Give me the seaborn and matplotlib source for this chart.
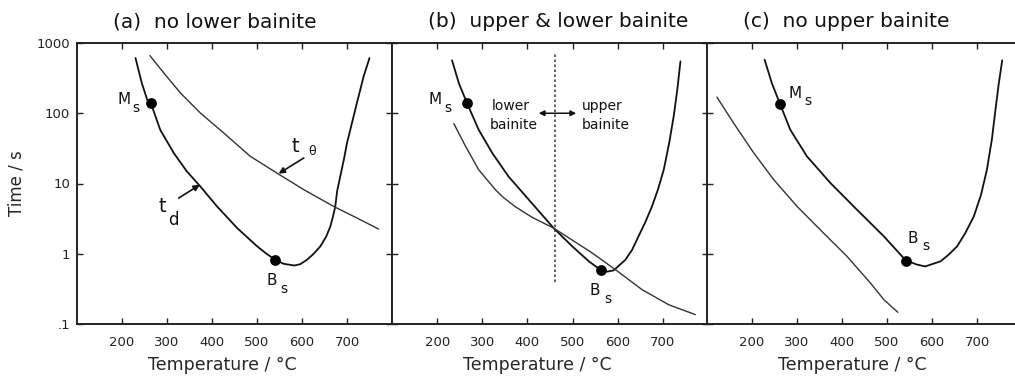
import numpy as np
import pandas as pd
import matplotlib
matplotlib.use("Agg")
import matplotlib.pyplot as plt
import seaborn as sns

# ---------------- data (temperature in degC, time in s) ----------------
# panel (a): no lower bainite
a_td_T = [230, 244, 256, 264, 285, 315, 344, 374, 411, 456, 500, 522, 541, 559, 583, 596, 611, 626,
          641, 654, 663, 669, 674, 678, 685, 693, 700, 722, 737, 750]
a_td_t = [611, 269, 156, 140, 58, 27.2, 14.9, 9.1, 4.73, 2.32, 1.28, 0.99, 0.82, 0.72, 0.68, 0.71, 0.82, 1.0,
          1.28, 1.77, 2.45, 3.41, 4.73, 7.73, 12.6, 21.9, 37.7, 140, 335, 611]
a_th_T = [262, 293, 330, 374, 426, 485, 544, 604, 670, 722, 770]
a_th_t = [661, 374, 194, 101, 52.4, 24.4, 14.1, 8.17, 4.73, 3.23, 2.25]
a_pts_T = [264, 541]
a_pts_t = [140, 0.82]

# panel (b): upper & lower bainite
b_td_T = [233, 248, 266, 292, 322, 358, 403, 458, 499, 536, 562, 576, 591, 617, 632, 646, 661, 676,
          689, 702, 714, 724, 732, 739]
b_td_t = [566, 269, 140, 58.3, 27.2, 12.6, 5.89, 2.32, 1.28, 0.78, 0.59, 0.556, 0.58, 0.82, 1.14, 1.77, 2.8, 4.73,
          8.17, 15.7, 37.7, 90.4, 217, 548]
b_th_T = [237, 263, 292, 329, 347, 373, 410, 458, 543, 595, 654, 713, 772]
b_th_t = [71.1, 33.8, 15.7, 8.17, 6.31, 4.68, 3.31, 2.32, 1.03, 0.593, 0.308, 0.188, 0.136]
b_pts_T = [266, 562]
b_pts_t = [140, 0.58]
b_divide_T = 460
b_divide_t = [0.40, 720]

# panel (c): no upper bainite
c_td_T = [228, 244, 262, 285, 322, 374, 433, 493, 542, 567, 585, 619, 637, 656, 674, 693, 709, 722,
          733, 741, 748, 756]
c_td_t = [579, 269, 137, 58.3, 24.4, 10.2, 4.25, 1.77, 0.80, 0.70, 0.66, 0.78, 0.97, 1.28, 1.97, 3.41, 6.93, 15.7,
          42.1, 112, 255, 566]
c_th_T = [122, 159, 204, 248, 300, 359, 411, 463, 493, 524]
c_th_t = [170, 72.6, 27.2, 11.4, 4.73, 1.97, 0.92, 0.384, 0.222, 0.147]
c_pts_T = [262, 542]
c_pts_t = [137, 0.80]

titles = ["(a)  no lower bainite", "(b)  upper & lower bainite", "(c)  no upper bainite"]
x_ticks = [200, 300, 400, 500, 600, 700]
y_ticks = [0.1, 1, 10, 100, 1000]
y_tick_labels = [".1", "1", "10", "100", "1000"]

# ---------------- style ----------------
sns.set_theme(style="ticks")
plt.rcParams["font.family"] = ["DejaVu Sans"]
plt.rcParams["axes.edgecolor"] = "#222222"
plt.rcParams["axes.linewidth"] = 1.4
plt.rcParams["lines.solid_joinstyle"] = "round"

W, H = 1015, 379
fig = plt.figure(figsize=(W / 100, H / 100), dpi=100)

panel_left = [77, 392, 707]
panel_w = [315, 316, 315]
bottom_px, top_px = 324, 43

panels = [
    (a_td_T, a_td_t, a_th_T, a_th_t, a_pts_T, a_pts_t),
    (b_td_T, b_td_t, b_th_T, b_th_t, b_pts_T, b_pts_t),
    (c_td_T, c_td_t, c_th_T, c_th_t, c_pts_T, c_pts_t),
]

axes = []
for i, (tdT, tdt, thT, tht, pT, pt) in enumerate(panels):
    ax = fig.add_axes([panel_left[i] / W, (H - bottom_px) / H,
                       panel_w[i] / W, (bottom_px - top_px) / H])
    axes.append(ax)
    df_td = pd.DataFrame({"T": tdT, "t": tdt})
    df_th = pd.DataFrame({"T": thT, "t": tht})
    sns.lineplot(data=df_td, x="T", y="t", sort=False, estimator=None,
                 color="#111111", linewidth=1.3, ax=ax)
    sns.lineplot(data=df_th, x="T", y="t", sort=False, estimator=None,
                 color="#333333", linewidth=1.0, ax=ax)
    sns.scatterplot(x=pT, y=pt, color="black", s=60, edgecolor="black",
                    linewidth=0, zorder=5, ax=ax)
    ax.set_yscale("log")
    ax.set_xlim(100, 800)
    ax.set_ylim(0.1, 1000)
    ax.set_xticks(x_ticks)
    ax.set_xticklabels([str(v) for v in x_ticks], fontsize=9.5)
    ax.set_yticks(y_ticks)
    ax.yaxis.set_minor_locator(matplotlib.ticker.NullLocator())
    if i == 0:
        ax.set_yticklabels(y_tick_labels, fontsize=9.5)
        ax.set_ylabel("Time / s", fontsize=12, labelpad=8)
    else:
        ax.set_yticklabels([])
        ax.set_ylabel("")
    ax.tick_params(axis="both", which="both", direction="in", top=True, right=True,
                   length=4, width=1.0, colors="#222222")
    ax.tick_params(axis="x", pad=9)
    ax.tick_params(axis="y", pad=5)
    ax.set_xlabel("Temperature / \u00b0C", fontsize=12.5, labelpad=4)
    ax.xaxis.set_label_coords(0.46, -0.115)
    ax.text(0.115, 1.075, titles[i], transform=ax.transAxes, fontsize=14.5,
            ha="left", va="center", color="#111111")

def sublabel(ax, main, sub, x, y, dx=9, dy=-6, size=11, subsize=10):
    ax.text(x, y, main, fontsize=size, ha="center", va="center", color="#111111")
    ax.annotate(sub, xy=(x, y), xytext=(dx, dy), textcoords="offset points",
                fontsize=subsize, ha="center", va="center", color="#111111")

# panel (a) labels
ax = axes[0]
sublabel(ax, "M", "s", 204, 156)
sublabel(ax, "B", "s", 533, 0.42)
ax.text(585, 33.8, "t", fontsize=14, ha="center", va="center", color="#111111")
ax.text(622, 28.7, "\u03b8", fontsize=9, ha="center", va="center", color="#111111")
ax.annotate("", xy=(548, 13.8), xytext=(604, 23.1),
            arrowprops=dict(arrowstyle="-|>", color="#111111", lw=1.2,
                            mutation_scale=9, shrinkA=0, shrinkB=0))
ax.text(289, 4.73, "t", fontsize=14, ha="center", va="center", color="#111111")
ax.text(315, 3.05, "d", fontsize=12, ha="center", va="center", color="#111111")
ax.annotate("", xy=(373, 9.6), xytext=(326, 6.2),
            arrowprops=dict(arrowstyle="-|>", color="#111111", lw=1.2,
                            mutation_scale=9, shrinkA=0, shrinkB=0))

# panel (b) labels
ax = axes[1]
sublabel(ax, "M", "s", 196, 156)
sublabel(ax, "B", "s", 550, 0.30)
ax.vlines(b_divide_T, b_divide_t[0], b_divide_t[1], colors="#444444",
          linestyles=(0, (1.5, 1.5)), linewidth=1.2)
ax.text(364, 125, "lower", fontsize=10, ha="center", va="center", color="#111111")
ax.text(370, 68.7, "bainite", fontsize=10, ha="center", va="center", color="#111111")
ax.text(566, 125, "upper", fontsize=10, ha="center", va="center", color="#111111")
ax.text(573, 68.7, "bainite", fontsize=10, ha="center", va="center", color="#111111")
ax.annotate("", xy=(425, 100), xytext=(508, 100),
            arrowprops=dict(arrowstyle="<|-|>", color="#111111", lw=1.1,
                            mutation_scale=8, shrinkA=0, shrinkB=0))

# panel (c) labels
ax = axes[2]
sublabel(ax, "M", "s", 296, 194)
sublabel(ax, "B", "s", 558, 1.67)

fig.savefig("out.png", dpi=100)
